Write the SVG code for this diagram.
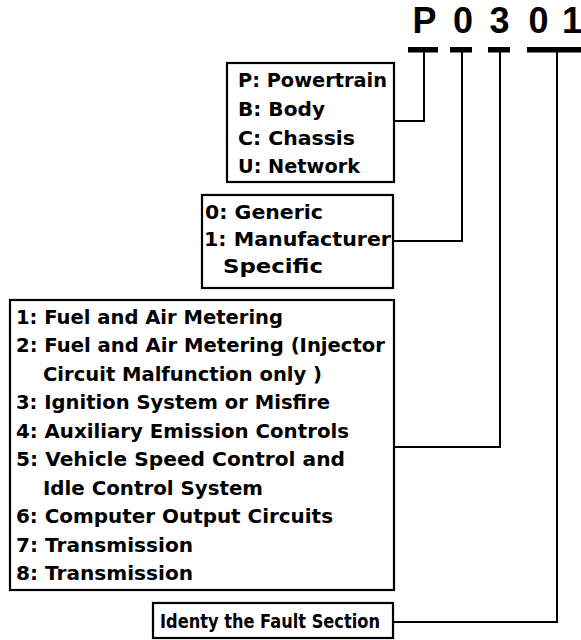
<svg xmlns="http://www.w3.org/2000/svg" width="581" height="640" viewBox="0 0 581 640">
<style>
.box{fill:#fff;stroke:#000;stroke-width:2.2}
.t{font-family:"DejaVu Sans",Verdana,sans-serif;font-weight:bold;font-size:20px;fill:#000}
.code{font-family:"Liberation Sans",Arial,sans-serif;font-weight:bold;font-size:36px;fill:#000;text-anchor:middle}
.ln{fill:none;stroke:#000;stroke-width:2}
</style>
<rect width="581" height="640" fill="#fff"/>
<g id="code">
<text class="code" x="424.5" y="33">P</text>
<text class="code" x="463" y="33">0</text>
<text class="code" x="499.5" y="33">3</text>
<text class="code" x="538.5" y="33">0</text>
<text class="code" x="572" y="33">1</text>
<rect x="408" y="47" width="30" height="5.5"/>
<rect x="450" y="47" width="22" height="5.5"/>
<rect x="488" y="47" width="22" height="5.5"/>
<rect x="527" y="47" width="54" height="5.5"/>
</g>
<g id="connectors">
<polyline class="ln" points="424,52 424,121 394,121"/>
<polyline class="ln" points="462,52 462,241 393,241"/>
<polyline class="ln" points="500,52 500,447 394,447"/>
<polyline class="ln" points="557,52 557,622 393,622"/>
</g>
<g id="category">
<rect class="box" x="227" y="63" width="167" height="119"/>
<text class="t" x="238" y="87" textLength="149" lengthAdjust="spacingAndGlyphs">P: Powertrain</text>
<text class="t" x="238" y="116" textLength="87" lengthAdjust="spacingAndGlyphs">B: Body</text>
<text class="t" x="238" y="145" textLength="117" lengthAdjust="spacingAndGlyphs">C: Chassis</text>
<text class="t" x="238" y="173" textLength="122" lengthAdjust="spacingAndGlyphs">U: Network</text>
</g>
<g id="type">
<rect class="box" x="202" y="195" width="191" height="93"/>
<text class="t" x="205" y="219" textLength="118" lengthAdjust="spacingAndGlyphs">0: Generic</text>
<text class="t" x="204" y="246" textLength="187" lengthAdjust="spacingAndGlyphs">1: Manufacturer</text>
<text class="t" x="223" y="273" textLength="100" lengthAdjust="spacingAndGlyphs">Specific</text>
</g>
<g id="subsystem">
<rect class="box" x="10" y="300" width="384" height="290"/>
<text class="t" x="16" y="323.5" textLength="267" lengthAdjust="spacingAndGlyphs">1: Fuel and Air Metering</text>
<text class="t" x="16" y="352" textLength="369" lengthAdjust="spacingAndGlyphs">2: Fuel and Air Metering (Injector</text>
<text class="t" x="43" y="380.5" textLength="279" lengthAdjust="spacingAndGlyphs">Circuit Malfunction only )</text>
<text class="t" x="16" y="409" textLength="314" lengthAdjust="spacingAndGlyphs">3: Ignition System or Misfire</text>
<text class="t" x="16" y="437.5" textLength="333" lengthAdjust="spacingAndGlyphs">4: Auxiliary Emission Controls</text>
<text class="t" x="16" y="466" textLength="329" lengthAdjust="spacingAndGlyphs">5: Vehicle Speed Control and</text>
<text class="t" x="43" y="494.5" textLength="220" lengthAdjust="spacingAndGlyphs">Idle Control System</text>
<text class="t" x="16" y="523" textLength="317" lengthAdjust="spacingAndGlyphs">6: Computer Output Circuits</text>
<text class="t" x="16" y="551.5" textLength="177" lengthAdjust="spacingAndGlyphs">7: Transmission</text>
<text class="t" x="16" y="580" textLength="177" lengthAdjust="spacingAndGlyphs">8: Transmission</text>
</g>
<g id="fault">
<rect class="box" x="153" y="603" width="240" height="35"/>
<text class="t" x="160" y="628" textLength="220" lengthAdjust="spacingAndGlyphs">Identy the Fault Section</text>
</g>
</svg>
